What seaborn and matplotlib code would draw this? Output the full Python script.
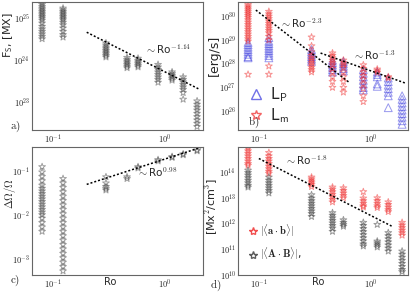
import numpy as np
import pandas as pd
import matplotlib
matplotlib.use("Agg")
import matplotlib.pyplot as plt
from matplotlib.ticker import FuncFormatter, LogLocator, NullFormatter
from matplotlib.lines import Line2D
import seaborn as sns

sns.set_style("white")
plt.rcParams["mathtext.fontset"] = "cm"
plt.rcParams["font.family"] = ["DejaVu Sans"]

# ---------------- data (log10 values per Ro column) ----------------
ro = [0.08, 0.123, 0.297, 0.458, 0.574, 0.866, 1.155, 1.45, 1.93]

fs_log = [
    [25.38, 25.33, 25.28, 25.24, 25.2, 25.16, 25.12, 25.08, 25.04, 25.0, 24.95, 24.88, 24.8, 24.74, 24.68, 24.62, 24.56, 24.5],
    [25.24, 25.2, 25.16, 25.12, 25.08, 25.04, 25.0, 24.96, 24.9, 24.84, 24.76, 24.68, 24.6, 24.54],
    [24.4, 24.35, 24.3, 24.26, 24.22, 24.18, 24.14, 24.1, 24.06],
    [24.05, 24.0, 23.96, 23.92, 23.88, 23.84, 23.8],
    [24.03, 23.98, 23.94, 23.9, 23.86, 23.82],
    [23.88, 23.82, 23.76, 23.7, 23.64, 23.58, 23.52, 23.45],
    [23.7, 23.66, 23.62, 23.58, 23.54, 23.5],
    [23.58, 23.52, 23.46, 23.4, 23.34, 23.28, 23.2, 23.04],
    [23.0, 22.92, 22.85, 22.78, 22.7, 22.62, 22.54, 22.46, 22.38],
]

lm_log = [
    [30.45, 30.38, 30.3, 30.22, 30.14, 30.06, 29.98, 29.9, 29.8, 29.7, 29.6, 29.5, 29.4, 29.3, 29.2, 29.1, 29.0, 28.9, 27.5],
    [30.15, 30.05, 29.95, 29.85, 29.75, 29.65, 29.55, 29.45, 29.35, 29.25, 29.1, 28.95, 27.85, 27.5],
    [29.07, 28.7, 28.45, 28.3, 28.2, 28.1, 28.0, 27.9, 27.8, 27.7, 27.6],
    [28.4, 28.3, 28.2, 28.1, 28.0, 27.9, 27.75, 27.6, 27.4, 27.2, 26.95],
    [28.1, 28.0, 27.9, 27.8, 27.6, 27.4, 27.2, 26.95, 26.75],
    [27.9, 27.75, 27.6, 27.45, 27.3, 27.1, 26.9, 26.6, 26.35],
    [27.72, 27.65, 27.58],
    [27.4, 27.35],
    [],
]

lp_log = [
    [28.85, 28.75, 28.65, 28.55, 28.45, 28.35, 28.25, 28.2],
    [29.05, 28.9, 28.8, 28.7, 28.6, 28.5, 28.4, 28.3, 28.2],
    [28.55, 28.45, 28.35, 28.25, 28.15, 28.05],
    [28.1, 28.0, 27.9, 27.8, 27.7, 27.6],
    [28.05, 27.95, 27.85, 27.75, 27.65],
    [27.7, 27.55, 27.4, 27.25, 27.1, 26.95, 26.85],
    [27.6, 27.5, 27.4, 27.1, 27.0],
    [27.35, 27.2, 27.05, 26.9, 26.75, 26.6, 26.1],
    [26.6, 26.45, 26.3, 26.15, 26.0, 25.85, 25.7, 25.55, 25.4],
]

dom_log = [
    [-0.93, -1.05, -1.15, -1.25, -1.35, -1.42, -1.48, -1.54, -1.6, -1.66, -1.72, -1.78, -1.84, -1.9, -1.96, -2.02, -2.1, -2.2, -2.3, -2.4],
    [-1.2, -1.3, -1.4, -1.5, -1.6, -1.7, -1.8, -1.9, -2.0, -2.1, -2.2, -2.3, -2.4, -2.5, -2.6, -2.7, -2.8, -2.9, -3.0, -3.1, -3.2, -3.3],
    [-1.16, -1.3, -1.38, -1.42, -1.46],
    [-1.16, -1.2],
    [-0.93, -0.96],
    [-0.77, -0.8],
    [-0.7, -0.72],
    [-0.64, -0.66],
    [-0.55, -0.57],
]

ab_log = [
    [15.0, 14.9, 14.8, 14.7, 14.6, 14.5, 14.4, 14.3, 14.23],
    [14.73, 14.6, 14.5, 14.4, 14.3, 14.2, 14.1, 14.0, 13.92],
    [13.77, 13.7, 13.62, 13.55, 13.48, 13.4],
    [13.38, 13.3, 13.2, 13.1, 13.0, 12.9, 12.8],
    [13.35, 13.25, 13.15, 13.05, 12.96],
    [13.2, 12.95, 12.85, 12.75, 12.65, 12.6],
    [12.96, 12.85, 12.75, 12.65, 12.58],
    [12.8, 12.7, 12.6, 12.5, 12.42],
    [12.0, 11.9, 11.8, 11.7, 11.6, 11.5],
]

AB_log = [
    [14.04, 13.95, 13.85, 13.75, 13.65, 13.55, 13.45, 13.38],
    [13.77, 13.65, 13.55, 13.45, 13.35, 13.25, 13.15],
    [13.08, 12.95, 12.85, 12.75, 12.65, 12.55, 12.45, 12.35, 12.23],
    [12.38, 12.28, 12.18, 12.08, 11.98, 11.88, 11.78, 11.65],
    [12.1, 12.0, 11.92, 11.85],
    [12.0, 11.88, 11.76, 11.64, 11.52, 11.4, 11.28, 11.16, 11.08],
    [11.92, 11.27, 11.2, 11.12, 11.04],
    [11.6, 11.48, 11.36, 11.24, 11.12, 11.0, 10.88],
    [10.88, 10.76, 10.64, 10.52, 10.4, 10.28, 10.16, 10.08],
]

# fit lines: (Ro endpoints, log10 value endpoints)
fit_a_ro, fit_a_log = [0.2, 2.0], [24.66, 23.29]
fit_b1_ro, fit_b1_log = [0.094, 0.64], [30.21, 27.18]
fit_b2_ro, fit_b2_log = [0.358, 2.05], [28.4, 27.14]
fit_c_ro, fit_c_log = [0.2, 2.14], [-1.33, -0.48]
fit_d_ro, fit_d_log = [0.1, 1.57], [14.5, 11.85]


def long_df(vals):
    rows = [(r, 10.0 ** v) for r, col in zip(ro, vals) for v in col]
    return pd.DataFrame(rows, columns=["Ro", "val"])


def line_df(xs, ls):
    return pd.DataFrame({"Ro": xs, "val": [10.0 ** v for v in ls]})


W, H = 415, 294
fig = plt.figure(figsize=(W / 100, H / 100), dpi=100)


def mk_ax(x0, y0, x1, y1):
    return fig.add_axes([x0 / W, 1 - y1 / H, (x1 - x0) / W, (y1 - y0) / H])


ax_a = mk_ax(32, 2, 203, 130)
ax_b = mk_ax(238, 2, 408, 130)
ax_c = mk_ax(32, 147, 203, 275)
ax_d = mk_ax(238, 147, 408, 275)

fmt = FuncFormatter(lambda v, p: r"$10^{%d}$" % int(round(np.log10(v))))


def stars(ax, df, color, alpha, marker="*", s=26, lw=0.7):
    sns.scatterplot(data=df, x="Ro", y="val", ax=ax, marker=marker, s=s, legend=False)
    coll = ax.collections[-1]
    coll.set_facecolor("none")
    coll.set_edgecolor(color)
    coll.set_alpha(alpha)
    coll.set_linewidth(lw)


def fitline(ax, xs, ls):
    sns.lineplot(data=line_df(xs, ls), x="Ro", y="val", ax=ax, color="black",
                 lw=1.1, linestyle=(0, (1.3, 1.3)), legend=False)


stars(ax_a, long_df(fs_log), "0.25", 0.5)
fitline(ax_a, fit_a_ro, fit_a_log)

stars(ax_b, long_df(lp_log), "#3333dd", 0.5, marker="^", s=32)
stars(ax_b, long_df(lm_log), "#ee2222", 0.5)
fitline(ax_b, fit_b1_ro, fit_b1_log)
fitline(ax_b, fit_b2_ro, fit_b2_log)

stars(ax_c, long_df(dom_log), "0.25", 0.5)
fitline(ax_c, fit_c_ro, fit_c_log)

stars(ax_d, long_df(ab_log), "#ee2222", 0.5)
stars(ax_d, long_df(AB_log), "0.2", 0.5)
fitline(ax_d, fit_d_ro, fit_d_log)

ylims = {ax_a: (22.3, 25.39), ax_b: (25.16, 30.55), ax_c: (-3.39, -0.48), ax_d: (9.95, 14.95)}
for ax in (ax_a, ax_b, ax_c, ax_d):
    ax.set_xscale("log")
    ax.set_yscale("log")
    ax.set_xlim(0.065, 2.18)
    lo, hi = ylims[ax]
    ax.set_ylim(10 ** lo, 10 ** hi)
    ax.xaxis.set_major_locator(LogLocator(base=10, numticks=10))
    ax.yaxis.set_major_locator(LogLocator(base=10, numticks=10))
    ax.xaxis.set_major_formatter(fmt)
    ax.yaxis.set_major_formatter(fmt)
    ax.xaxis.set_minor_formatter(NullFormatter())
    ax.yaxis.set_minor_formatter(NullFormatter())
    ax.tick_params(axis="both", which="both", labelsize=6, length=0, pad=1.5)
    ax.set_xlabel("")
    ax.set_ylabel("")
    for sp in ax.spines.values():
        sp.set_color("0.4")
        sp.set_linewidth(0.8)


def ftext(x, y, s, **kw):
    fig.text(x / W, 1 - y / H, s, **kw)


# panel letters
ftext(10, 127, r"$\mathrm{a)}$", fontsize=8, va="center")
ftext(248, 122, r"$\mathrm{b)}$", fontsize=8, va="center")
ftext(10, 281, r"$\mathrm{c)}$", fontsize=8, va="center")
ftext(210, 285, r"$\mathrm{d)}$", fontsize=8, va="center")

# y labels
ftext(1, 35, r"F$_{\mathsf{S}}$, [MX]", fontsize=8, rotation=90, va="center", ha="left")
ftext(214, 55, "[erg/s]", fontsize=9, rotation=90, va="center", ha="center")
ftext(1.5, 194, r"$\mathsf{\Delta\Omega/\Omega}$", fontsize=7.5, rotation=90, va="center", ha="left")
ftext(212, 207, r"[Mx$^{\mathsf{2}}$/cm$^{\mathsf{3}}$]", fontsize=8, rotation=90, va="center", ha="center")

# Ro labels
ftext(110, 282, "Ro", fontsize=7, va="center", ha="center")
ftext(318, 282, "Ro", fontsize=7, va="center", ha="center")

# fit annotations
ftext(145, 49, r"$\sim$Ro$^{\mathsf{-1.14}}$", fontsize=7.5, va="center")
ftext(280, 23, r"$\sim$Ro$^{\mathsf{-2.3}}$", fontsize=7.5, va="center")
ftext(353, 55, r"$\sim$Ro$^{\mathsf{-1.3}}$", fontsize=7.5, va="center")
ftext(137, 172, r"$\sim$Ro$^{\mathsf{0.98}}$", fontsize=7.5, va="center")
ftext(285, 160, r"$\sim$Ro$^{\mathsf{-1.8}}$", fontsize=7.5, va="center")

# legends
hb = [Line2D([], [], marker="^", mfc="none", mec="#3333dd", ls="", ms=7, alpha=0.7),
      Line2D([], [], marker="*", mfc="none", mec="#ee2222", ls="", ms=7, alpha=0.7)]
ax_b.legend(hb, [r"L$_{\mathsf{P}}$", r"L$_{\mathsf{m}}$"], loc="lower left",
            bbox_to_anchor=(0.0, -0.03), frameon=False, fontsize=11,
            handletextpad=0.3, labelspacing=0.15, handlelength=1.2, borderaxespad=0.2)

hd = [Line2D([], [], marker="*", mfc="none", mec="#ee2222", ls="", ms=6, alpha=0.8),
      Line2D([], [], marker="*", mfc="none", mec="0.2", ls="", ms=6, alpha=0.8)]
ax_d.legend(hd, [r"$|\langle\mathbf{a}\cdot\mathbf{b}\rangle|$", r"$|\langle\mathbf{A}\cdot\mathbf{B}\rangle|$,"],
            loc="lower left", bbox_to_anchor=(0.02, 0.05), frameon=False, fontsize=7.5,
            handletextpad=0.2, labelspacing=0.7, handlelength=1.0, borderaxespad=0.2)

fig.savefig("out.png", dpi=100)
